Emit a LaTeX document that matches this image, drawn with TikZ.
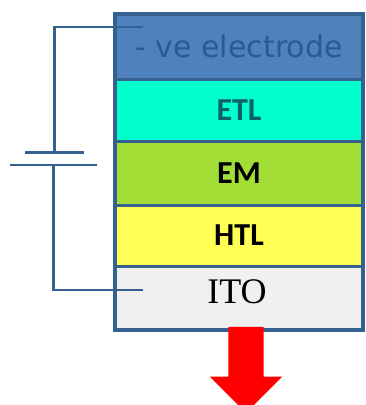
\documentclass[tikz,border=0pt]{standalone}
\usepackage{fontspec}
\setmainfont{Carlito}
\newfontfamily\wideface{DejaVu Sans}
\newfontfamily\itoface{Liberation Serif}
\usetikzlibrary{shapes.arrows}
\definecolor{edgeblue}{HTML}{35608F}
\definecolor{electrodeblue}{HTML}{4F81BD}
\definecolor{electrodetext}{HTML}{2A5A96}
\definecolor{etlcyan}{HTML}{00FFCC}
\definecolor{etltext}{HTML}{0F5F68}
\definecolor{emgreen}{HTML}{A2DE36}
\definecolor{htlyellow}{HTML}{FFFF55}
\definecolor{itogray}{HTML}{F0F0F0}
\tikzset{
	layer/.style={rectangle, draw=edgeblue, line width=3pt, minimum width=248pt, inner sep=0pt, font=\fontsize{32}{34}\selectfont},
	plate/.style={rectangle, fill=edgeblue, inner sep=0pt, minimum height=2.5pt},
	wire/.style={draw=edgeblue, line width=2.4pt}
}
\begin{document}
\begin{tikzpicture}[x=1pt, y=-1pt]
	\useasboundingbox (0, 0) rectangle (365, 405);
	\clip (0, 0) rectangle (365, 405);
	\draw (239, 46.5) node [layer, fill=electrodeblue, minimum height=65pt, text=electrodetext, font=\wideface\fontsize{30}{32}\selectfont] (electrode) {- ve electrode};
	\draw (239, 110) node [layer, fill=etlcyan, minimum height=62pt, text=etltext] (etl) {\textbf{ETL}};
	\draw (239, 173) node [layer, fill=emgreen, minimum height=64pt, text=black] (em) {\textbf{EM}};
	\draw (239, 235.5) node [layer, fill=htlyellow, minimum height=61pt, text=black] (htl) {\textbf{HTL}};
	\draw (239, 298) node [layer, fill=itogray, minimum height=64pt] (ito) {};
	\draw (237, 292) node [font=\itoface\fontsize{36}{38}\selectfont, inner sep=0pt] (itotext) {ITO};
	\draw (239, 172) node [rectangle, draw=edgeblue, line width=4.5pt, minimum width=248pt, minimum height=316pt] (stack) {};
	\draw (54.5, 152.5) node [plate, minimum width=59pt] (upper) {};
	\draw (53.5, 165) node [plate, minimum width=87pt] (lower) {};
	\coordinate (cathode) at (143, 27);
	\coordinate (anode) at (143, 290);
	\path [wire] (cathode) -| (upper);
	\path [wire] (anode) -| (lower);
	\draw (246, 361) node [single arrow, fill=red, shape border rotate=270, inner sep=17.5pt, minimum width=72pt, minimum height=86pt, single arrow head extend=18.5pt, single arrow tip angle=90] (output) {};
\end{tikzpicture}
\end{document}
